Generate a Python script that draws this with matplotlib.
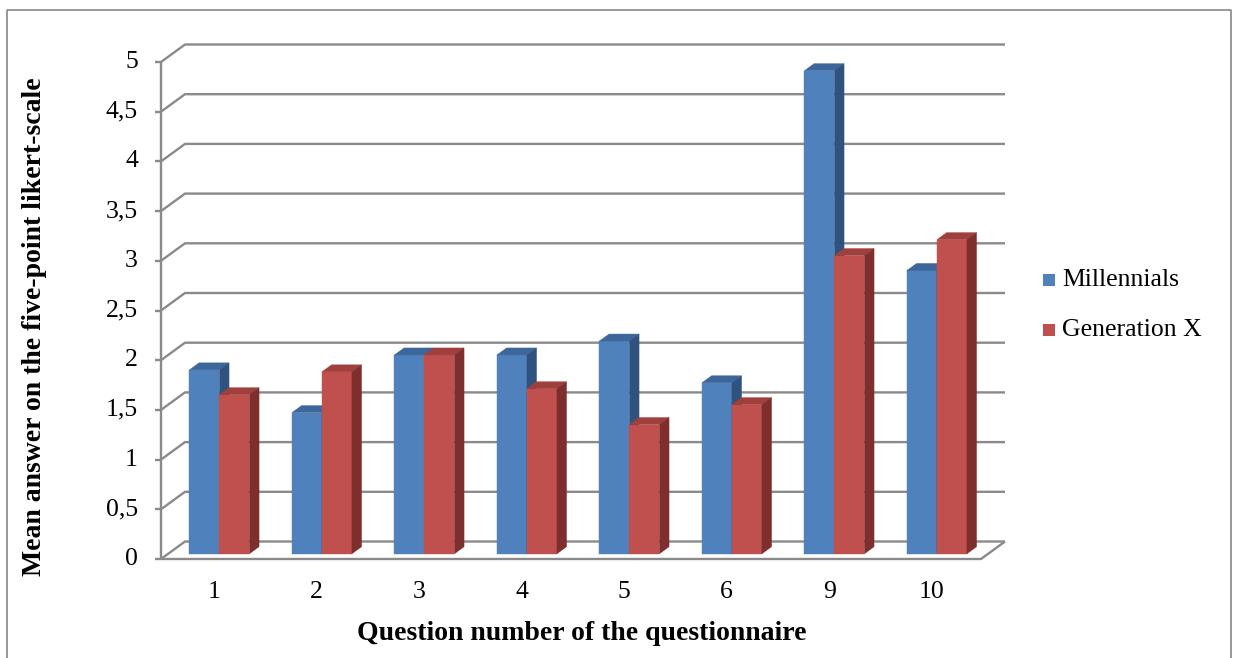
import matplotlib
matplotlib.use("Agg")
import matplotlib.pyplot as plt
from matplotlib.patches import Polygon, Rectangle
from matplotlib.lines import Line2D

# ---- data -------------------------------------------------------------
questions = ["1", "2", "3", "4", "5", "6", "9", "10"]
millennials = [1.85, 1.42, 2.00, 2.00, 2.14, 1.72, 4.86, 2.85]
generation_x = [1.60, 1.83, 2.00, 1.66, 1.30, 1.50, 3.00, 3.16]
series_names = ["Millennials", "Generation X"]
y_ticks = [0, 0.5, 1, 1.5, 2, 2.5, 3, 3.5, 4, 4.5, 5]
y_tick_labels = ["0", "0,5", "1", "1,5", "2", "2,5", "3", "3,5", "4", "4,5", "5"]
x_title = "Question number of the questionnaire"
y_title = "Mean answer on the five-point likert-scale"

# ---- style ------------------------------------------------------------
SERIF = "Liberation Serif"
FRONT = ["#4F81BD", "#C0504D"]
TOP = ["#3D679B", "#A0403D"]
SIDE = ["#30527E", "#7D2E2D"]
GRID = "#8A8A8A"

W, H, DPI = 1239, 658, 100
fig = plt.figure(figsize=(W / DPI, H / DPI), dpi=DPI)

# pixel geometry of the front plane of the 3-D box
X0_PX, CAT_PX = 161.0, 102.5     # left edge of category axis, width per category
Y0_PX, UNIT_PX = 559.0, 99.4     # baseline (from top), pixels per value unit
xlim = (-0.6, 8.5)
ylim = (-0.35, 5.4)
left_px = X0_PX + xlim[0] * CAT_PX
right_px = X0_PX + xlim[1] * CAT_PX
bot_px = Y0_PX - ylim[0] * UNIT_PX
top_px = Y0_PX - ylim[1] * UNIT_PX
ax = fig.add_axes([left_px / W, 1 - bot_px / H,
                   (right_px - left_px) / W, (bot_px - top_px) / H])
ax.set_xlim(xlim)
ax.set_ylim(ylim)
ax.axis("off")

n = len(questions)
DX = 24.0 / CAT_PX      # depth of the floor, horizontal component
DY = 17.5 / UNIT_PX     # depth of the floor, vertical component
grid_kw = dict(color=GRID, lw=1.7, solid_capstyle="butt", zorder=1)

# back-wall gridlines with their side-wall diagonals, and axis ticks
for v in y_ticks:
    ax.plot([0, DX, n + DX], [v, v + DY, v + DY], **grid_kw)
    ax.plot([-6.5 / CAT_PX, 0], [v, v], **grid_kw)
# value axis and floor outline
ax.plot([0, 0], [0, y_ticks[-1]], **grid_kw)
ax.plot([0, n, n + DX], [0, 0, DY], **grid_kw)

# ---- 3-D columns --------------------------------------------------------
bw = 30.0 / CAT_PX                  # column width
f0, fd = 0.3, 0.4                   # column front position / depth (fraction of floor depth)
base = f0 * DY
bdx, bdy = fd * DX, fd * DY
centers = [i + 0.5 + f0 * DX for i in range(n)]

for s, vals in enumerate([millennials, generation_x]):
    lefts = [c - bw + s * bw for c in centers]
    ax.bar(lefts, vals, width=bw, bottom=base, align="edge",
           color=FRONT[s], edgecolor=FRONT[s], lw=0.3, zorder=3 + s)
    for l, v in zip(lefts, vals):
        t = base + v
        ax.add_patch(Polygon([(l, t), (l + bw, t), (l + bw + bdx, t + bdy), (l + bdx, t + bdy)],
                             closed=True, facecolor=TOP[s], edgecolor=TOP[s], lw=0.3, zorder=3 + s))
        ax.add_patch(Polygon([(l + bw, base), (l + bw + bdx, base + bdy),
                              (l + bw + bdx, t + bdy), (l + bw, t)],
                             closed=True, facecolor=SIDE[s], edgecolor=SIDE[s], lw=0.3, zorder=3 + s))

# ---- tick labels ---------------------------------------------------------
for v, lab in zip(y_ticks, y_tick_labels):
    ax.text(-23.0 / CAT_PX, v, lab, ha="right", va="center",
            fontsize=18.5, family=SERIF, color="black")
for i, q in enumerate(questions):
    ax.text(i + 0.52, -0.33, q, ha="center", va="center",
            fontsize=18.5, family=SERIF, color="black")

# ---- axis titles ---------------------------------------------------------
fig.text(582 / W, 1 - 634 / H, x_title, ha="center", va="center",
         fontsize=20, fontweight="bold", family=SERIF)
fig.text(35 / W, 1 - 327 / H, y_title, ha="center", va="center", rotation=90,
         fontsize=20, fontweight="bold", family=SERIF)

# ---- legend -------------------------------------------------------------
for s, (name, ypx) in enumerate(zip(series_names, [280, 330])):
    fig.add_artist(Rectangle((1043 / W, 1 - (ypx + 6) / H), 12 / W, 12 / H,
                             transform=fig.transFigure, facecolor=FRONT[s],
                             edgecolor="none"))
    fig.text(1062 / W, 1 - ypx / H, name, ha="left", va="center",
             fontsize=18.5, family=SERIF)

# ---- chart border ---------------------------------------------------------
fig.add_artist(Line2D([7 / W, 7 / W, 1231 / W, 1231 / W],
                      [0, 1 - 10 / H, 1 - 10 / H, 0],
                      transform=fig.transFigure, color="#888888", lw=1.2))

fig.savefig("out.png", dpi=DPI, facecolor="white")
